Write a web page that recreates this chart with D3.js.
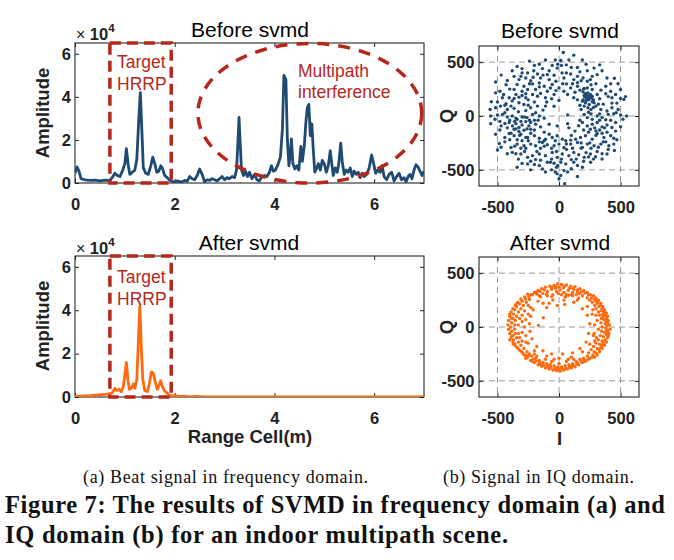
<!DOCTYPE html>
<html><head><meta charset="utf-8">
<script src="https://cdn.jsdelivr.net/npm/d3@7"></script>
<style>
html,body{margin:0;padding:0;background:#fff;}
svg{display:block;}
</style></head>
<body>
<svg id="chart" width="674" height="560"></svg>
<script>
// ---------- data ----------
const rangeTicks = [0, 2, 4, 6];
const ampTicks = [0, 2, 4, 6];
const iqTicks = [-500, 0, 500];

const rangeBefore = [0.00,0.04,0.08,0.12,0.20,0.30,0.40,0.50,0.60,0.70,0.76,0.80,0.85,0.90,0.95,1.00,1.03,1.07,1.10,1.15,1.20,1.24,1.28,1.31,1.34,1.37,1.42,1.47,1.52,1.56,1.60,1.64,1.68,1.72,1.75,1.80,1.85,1.90,1.95,2.00,2.05,2.10,2.15,2.20,2.25,2.30,2.35,2.40,2.45,2.50,2.55,2.60,2.65,2.70,2.75,2.80,2.85,2.90,2.95,3.00,3.05,3.10,3.15,3.20,3.24,3.27,3.29,3.31,3.34,3.38,3.42,3.46,3.50,3.55,3.60,3.65,3.70,3.75,3.80,3.85,3.90,3.94,3.98,4.02,4.07,4.12,4.16,4.19,4.23,4.26,4.29,4.32,4.34,4.37,4.41,4.45,4.49,4.53,4.56,4.60,4.63,4.66,4.69,4.72,4.75,4.78,4.81,4.85,4.88,4.92,4.96,5.00,5.04,5.08,5.12,5.15,5.18,5.22,5.26,5.29,5.33,5.36,5.40,5.44,5.48,5.52,5.56,5.60,5.64,5.68,5.72,5.76,5.80,5.85,5.90,5.95,5.99,6.03,6.07,6.12,6.16,6.20,6.25,6.30,6.35,6.40,6.45,6.50,6.55,6.60,6.64,6.68,6.72,6.76,6.80,6.84,6.88,6.92,6.96,7.00];
const ampBefore = [0.45,0.75,0.55,0.20,0.15,0.12,0.13,0.10,0.13,0.12,0.30,0.45,0.35,0.30,0.55,0.90,1.60,0.80,0.40,0.50,0.60,1.10,3.00,4.20,2.50,0.70,0.45,0.40,0.80,1.20,0.90,0.50,0.55,0.80,0.70,0.35,0.25,0.12,0.08,0.05,0.10,0.06,0.05,0.12,0.08,0.30,0.20,0.15,0.35,0.65,0.40,0.05,0.15,0.12,0.20,0.15,0.10,0.20,0.30,0.15,0.25,0.20,0.30,0.25,0.60,2.00,3.05,2.00,0.60,0.35,0.55,0.30,0.50,0.20,0.40,0.15,0.10,0.30,0.35,0.30,0.50,0.80,0.55,0.60,0.85,1.20,2.50,5.00,4.80,2.00,0.80,1.40,2.05,0.90,0.65,0.80,0.60,1.70,1.00,1.75,2.80,3.50,3.65,2.20,2.75,1.50,0.50,0.70,0.90,0.60,1.05,0.90,0.50,0.80,1.50,0.90,0.35,0.70,0.50,0.90,1.85,1.00,0.40,0.60,0.50,0.70,0.30,0.55,0.40,0.50,0.25,0.45,0.30,0.40,0.70,1.30,0.90,0.45,0.60,0.50,0.80,0.30,0.15,0.40,0.50,0.10,0.30,0.45,0.15,0.25,0.05,0.30,0.40,0.20,0.60,0.85,0.75,0.55,0.35,0.55];

const rangeAfter = [0.00,0.30,0.60,0.70,0.75,0.80,0.84,0.88,0.93,0.97,1.00,1.03,1.06,1.09,1.13,1.17,1.20,1.24,1.27,1.30,1.33,1.36,1.40,1.45,1.49,1.53,1.57,1.61,1.65,1.69,1.72,1.75,1.79,1.84,1.90,1.95,2.00,2.10,2.20,2.30,2.40,2.60,3.00,4.00,5.00,6.00,7.00];
const ampAfter = [0.03,0.06,0.12,0.15,0.20,0.40,0.30,0.35,0.25,0.50,1.00,1.60,0.80,0.35,0.40,0.60,0.40,0.80,2.50,4.20,2.30,0.80,0.30,0.25,0.60,1.15,1.10,0.70,0.35,0.55,0.75,0.50,0.30,0.20,0.08,0.05,0.06,0.03,0.04,0.01,0.03,0.01,0.01,0.01,0.01,0.01,0.01];

// annotation regions (data units)
const targetBox = [0.70, 1.93];                       // range cells of the Target HRRP box
const multipathEllipse = [4.71, 3.24, 2.245, 3.24];   // cx, cy(1e4), rx, ry(1e4)

const iqBefore = [
[35,590],[120,565],[15,515],[-110,520],[-240,510],[190,520],[-160,480],[-340,460],[60,475],[-55,470],[330,475],[285,445],[150,450],[-15,445],[-135,440],[-205,420],[-365,368],[-310,368],[-255,400],[-175,390],[-95,384],[-40,378],[25,400],[95,390],[150,368],[195,353],[270,368],[255,338],[310,384],[390,353],[-325,338],[-270,353],[-230,328],[-150,353],[-80,338],[-25,322],[40,353],[120,338],[180,328],[230,322],
[-515,316],[-340,292],[-285,276],[-215,298],[-160,307],[-120,276],[-55,292],[0,261],[60,298],[95,261],[150,276],[205,255],[230,261],[270,246],[380,276],[500,246],[-365,246],[-255,246],[-190,246],[-95,230],[-25,236],[40,230],[-300,230],[170,240],[110,300],[-430,290],
[-515,215],[-405,169],[-365,163],[-325,175],[-270,206],[-215,200],[-175,184],[-110,169],[-40,200],[70,200],[120,169],[195,224],[215,206],[235,215],[255,200],[210,175],[230,169],[250,163],[270,184],[310,200],[380,206],[430,169],[500,163],[527,154],[-550,132],[-460,169],[205,190],[225,195],[245,185],[265,170],[240,150],[220,145],[195,150],[280,150],[-250,150],[-300,190],[-450,200],[-150,210],[-60,160],[0,145],[150,150],
[-515,77],[-475,92],[-430,114],[-390,92],[-365,71],[-325,123],[-285,107],[-230,77],[-175,92],[-110,92],[190,138],[215,123],[245,107],[270,132],[205,92],[235,77],[300,92],[340,61],[390,46],[430,77],[465,31],[285,123],[-200,130],[-420,60],[-270,50],[260,60],[320,110],[170,100],[-130,55],[470,120],
[-555,0],[-500,9],[-460,15],[-420,-9],[-380,0],[-340,-31],[-300,-9],[-260,-15],[-215,15],[-160,0],[70,9],[205,15],[230,-15],[270,-31],[310,0],[350,-15],[400,15],[445,21],[500,9],[550,0],[-240,-40],[-440,30],[240,35],[380,-35],[-120,-20],
[-555,-71],[-470,-92],[-405,-61],[-378,-92],[-350,-71],[-325,-107],[-300,-83],[-270,-52],[-245,-92],[-365,-123],[-325,-144],[-285,-132],[-230,-123],[-190,-77],[-150,-101],[-80,-77],[-15,-92],[70,-71],[80,-110],[190,-61],[230,-92],[270,-77],[310,-61],[350,-101],[390,-83],[430,-107],[255,-123],[300,-138],[-400,-40],[-420,-110],[-360,-50],[-310,-50],[-260,-120],[160,-90],[330,-130],[460,-60],
[-515,-169],[-405,-163],[-365,-184],[-310,-169],[-255,-200],[-200,-184],[-160,-206],[-110,-215],[-55,-200],[-15,-184],[27,-215],[55,-230],[95,-224],[135,-215],[175,-200],[215,-184],[270,-215],[310,-163],[365,-200],[420,-184],[445,-206],[-440,-200],[-340,-220],[-230,-160],[240,-150],[390,-150],[-80,-170],[100,-180],
[-485,-255],[-390,-292],[-340,-261],[-285,-276],[-230,-261],[-190,-276],[-135,-246],[-95,-267],[-40,-276],[0,-261],[40,-292],[95,-261],[150,-246],[190,-292],[230,-261],[285,-276],[340,-261],[405,-276],[445,-261],[-310,-300],[-150,-300],[60,-310],[260,-300],[380,-240],[-440,-240],
[-500,-316],[-380,-338],[-310,-353],[-255,-384],[-215,-368],[-160,-353],[-110,-368],[-55,-338],[-15,-384],[27,-353],[80,-368],[120,-338],[160,-359],[205,-384],[255,-353],[297,-378],[350,-399],[390,-353],[-280,-330],[-60,-400],[100,-405],[-190,-405],[310,-330],
[-340,-476],[-255,-445],[-160,-460],[-135,-491],[-95,-430],[-40,-439],[-20,-476],[15,-430],[55,-445],[150,-460],[257,-430],[190,-476],[-60,-500],[100,-490],[-230,-500],
[-15,-537],[14,-553],[0,-583],[46,-629],[150,-562],[41,-507],[-30,-520],
[-470,380],[-420,330],[-380,420],[-300,440],[-200,470],[-80,420],[20,470],[80,520],[170,410],[230,420],[350,420],[420,300],[450,350],[-480,230],[-400,250],[-160,270],[-70,260],[30,300],[130,220],[300,300],[340,240],[420,230],[460,200],[540,180],[-560,60],[-500,130],[-380,140],[-330,40],[-250,100],[-190,30],[-100,130],[-40,90],[180,60],[260,20],[330,160],[360,110],[400,180],[430,120],[480,60],[520,-30],[-520,-30],[-480,-130],[-440,-70],[-390,-160],[-350,-20],[-320,-180],[-280,-10],[-230,-60],[-200,-130],[-170,-40],[-120,-150],[130,-140],[170,-40],[200,-130],[290,-110],[330,-40],[370,-110],[420,-40],[460,-140],[500,-100],[-470,-290],[-420,-350],[-360,-280],[-330,-400],[-270,-300],[-230,-420],[-180,-330],[-120,-280],[-70,-430],[-20,-330],[20,-400],[60,-260],[110,-300],[140,-400],[180,-250],[220,-340],[280,-400],[320,-290],[360,-240],[400,-310],[470,-220],[-110,-520],[70,-520],[200,-420],[-300,-440],[-200,-450],[-10,-460],[120,-430],[-150,-410],[300,-180],[250,-250],[350,-160],[-350,200],[-240,300],[-130,380],[-30,520],[220,480],[260,290],[150,310],[-30,-230],[-160,-240],[-400,-220],[-250,-230],[-350,-120],[-300,-230],[-200,-40],[330,20],[280,80],[200,250],[100,450],[-10,480],[-300,400],[-440,100],[-480,-50],[-350,-350],[350,-350],[450,-320],[480,300],[-270,170],[-210,360],[60,400],[-60,-300],[180,-300],[-270,-200],[240,-380],[-120,-230]
];

const iqAfter = [
[-10,400],[20,395],[-40,385],[60,390],[95,380],[130,375],[-75,380],[-110,370],[-140,355],[-170,340],[170,355],[200,340],[230,320],[-200,320],[-230,300],[255,300],
[-20,330],[10,345],[40,320],[75,340],[110,320],[140,300],[-60,350],[-95,330],[-130,310],[-160,290],[165,310],[190,290],[-50,300],[80,295],[120,350],[-120,345],[0,370],[35,365],[-30,360],[150,330],[-180,305],
[110,290],[105,305],[60,300],[55,280],[-95,290],[-100,305],[-150,280],[160,270],[20,300],[-5,310],
[280,290],[300,270],[320,250],[340,220],[355,190],[370,160],[385,130],[395,100],[400,60],[410,20],[415,-20],[405,-60],[395,-100],[385,-140],[370,-170],[350,-200],[330,-230],[310,-260],[290,-280],
[250,250],[270,230],[290,200],[300,170],[320,140],[330,110],[345,80],[340,40],[350,0],[345,-40],[335,-80],[320,-120],[300,-150],[280,-180],[260,-210],[240,-240],[265,270],[310,220],[325,190],[345,150],[355,120],[365,70],[375,30],[380,-10],[370,-50],[360,-90],[350,-130],[330,-160],[310,-200],[285,-230],[275,-260],
[360,100],[380,60],[300,240],[390,-30],[360,-160],[300,110],[310,60],[320,-20],[305,-100],[290,-130],[275,160],[285,-60],[395,40],[400,-80],[340,-190],[230,270],
[250,-290],[220,-310],[190,-330],[160,-350],[130,-370],[100,-380],[70,-390],[40,-400],[10,-410],[-20,-405],[-50,-400],[-80,-390],[-110,-380],[-140,-365],[-170,-350],[-200,-330],[-230,-310],[-260,-285],
[230,-270],[200,-290],[170,-300],[140,-320],[110,-340],[80,-350],[50,-360],[20,-370],[-10,-370],[-40,-360],[-70,-350],[-100,-340],[-130,-330],[-160,-310],[-190,-290],[-220,-270],[120,-300],[60,-320],[0,-340],[-60,-320],[-110,-300],[30,-390],[-30,-385],[90,-365],[150,-335],[-150,-345],[-90,-365],[210,-320],[-215,-320],[0,-390],[75,-300],[-40,-300],[-180,-270],
[-280,-260],[-300,-235],[-330,-205],[-355,-175],[-375,-140],[-390,-100],[-400,-60],[-410,-20],[-415,20],[-410,60],[-400,100],[-390,140],[-375,170],[-355,200],[-335,230],[-310,260],[-280,280],[-255,305],
[-260,-230],[-285,-200],[-310,-170],[-330,-140],[-345,-100],[-355,-60],[-360,-20],[-360,20],[-355,60],[-345,100],[-330,140],[-310,170],[-290,200],[-265,230],[-240,255],
[-320,-100],[-300,-130],[-330,-60],[-330,20],[-320,80],[-300,110],[-280,150],[-380,-80],[-395,0],[-385,80],[-370,-160],[-350,210],[-240,-250],[-270,-140],[-300,-50],[-300,50],[-400,120],[-400,-120],[-250,200],[-270,-290],[-200,-250],
[-81,221],[-127,86],[-167,15],[-14,200],[46,210],[-100,180],
[-60,370],[-25,375],[45,380],[85,360],[115,360],[150,345],[180,325],[-155,330],[-185,325],[-215,300],[210,315],[240,300],
[290,255],[315,235],[335,200],[350,170],[365,140],[375,110],[385,80],[390,10],[395,-40],[385,-70],[375,-120],[360,-150],[345,-175],[325,-210],[300,-240],[270,-280],
[240,-300],[205,-305],[180,-320],[145,-345],[115,-355],[85,-375],[55,-385],[25,-385],[-5,-395],[-35,-395],[-65,-375],[-95,-355],[-125,-355],[-155,-330],[-185,-315],[-210,-300],[-245,-270],
[-265,-265],[-290,-250],[-315,-220],[-340,-190],[-360,-155],[-370,-120],[-375,-80],[-385,-40],[-385,40],[-375,80],[-370,120],[-360,160],[-345,190],[-320,215],[-300,240],[-270,260],[-245,280],
[-250,120],[-270,70],[-280,0],[-270,-80],[-250,-150],[-200,-220],[-100,-270],[0,-290],[100,-280],[190,-230],[250,-160],[280,-80],[290,20],[270,120],[230,190],[150,250],[50,280],[-60,280],[-170,240],[-230,180],
[-210,160],[-230,100],[-240,30],[-235,-40],[-220,-110],[-180,-180],[-130,-220],[-60,-250],[30,-250],[110,-240],[170,-200],[220,-140],[240,-60],[250,30],[230,110],[190,170],[120,230],[40,250],[-50,250],[-130,220]
];

// ---------- drawing ----------
const svg = d3.select("#chart");
const SANS = "'Liberation Sans', Arial, Helvetica, sans-serif";
const SERIF = "'Liberation Serif', 'Times New Roman', serif";
const RED = "#B5271B";
const BLUE = "#1F4A74";
const ORANGE = "#FF6A0E";
const FRAME = "#262626";

let clipId = 0;
function framedAxes(box, xDomain, yDomain, xTicks, yTicks, xFmt, yFmt, opts) {
  const g = svg.append("g");
  const x = d3.scaleLinear().domain(xDomain).range([box.x0, box.x1]);
  const y = d3.scaleLinear().domain(yDomain).range([box.y1, box.y0]);
  const id = "clip" + (clipId++);
  svg.append("clipPath").attr("id", id).append("rect")
    .attr("x", box.x0).attr("y", box.y0).attr("width", box.x1 - box.x0).attr("height", box.y1 - box.y0);
  if (opts.grid) {
    const gg = g.append("g").attr("stroke", "#9a9a9a").attr("stroke-width", 1).attr("stroke-dasharray", "6,4");
    xTicks.forEach(t => gg.append("line").attr("x1", x(t)).attr("x2", x(t)).attr("y1", box.y0).attr("y2", box.y1));
    yTicks.forEach(t => gg.append("line").attr("y1", y(t)).attr("y2", y(t)).attr("x1", box.x0).attr("x2", box.x1));
  }
  const style = sel => {
    sel.select(".domain").remove();
    sel.selectAll(".tick line").attr("stroke", FRAME).attr("stroke-width", 1);
    sel.selectAll(".tick text").attr("fill", "#222").attr("font-family", SANS)
      .attr("font-size", 16.5).attr("font-weight", "bold");
  };
  g.append("g").attr("transform", `translate(0,${box.y1})`)
    .call(d3.axisBottom(x).tickValues(xTicks).tickFormat(xFmt).tickSize(-4).tickPadding(15)).call(style);
  g.append("g").attr("transform", `translate(0,${box.y0})`)
    .call(d3.axisTop(x).tickValues(xTicks).tickFormat("").tickSize(-4)).call(style);
  g.append("g").attr("transform", `translate(${box.x0},0)`)
    .call(d3.axisLeft(y).tickValues(yTicks).tickFormat(yFmt).tickSize(-4).tickPadding(opts.yPad)).call(style);
  g.append("g").attr("transform", `translate(${box.x1},0)`)
    .call(d3.axisRight(y).tickValues(yTicks).tickFormat("").tickSize(-4)).call(style);
  g.append("rect").attr("x", box.x0).attr("y", box.y0).attr("width", box.x1 - box.x0).attr("height", box.y1 - box.y0)
    .attr("fill", "none").attr("stroke", FRAME).attr("stroke-width", 1.1);
  return {x, y, clip: `url(#${id})`, g};
}

function title(txt, cx, baseY) {
  svg.append("text").attr("x", cx).attr("y", baseY).attr("text-anchor", "middle")
    .attr("font-family", SANS).attr("font-size", 21).attr("fill", "#000").text(txt);
}
function exponent(x0, baseY) {
  const t = svg.append("text").attr("x", x0).attr("y", baseY).attr("font-family", SANS).attr("fill", "#222");
  t.append("tspan").attr("font-size", 16).text("× ");
  t.append("tspan").attr("font-size", 16.5).attr("font-weight", "bold").text("10");
  t.append("tspan").attr("font-size", 11.5).attr("font-weight", "bold").attr("dy", -8).text("4");
}
function rotLabel(txt, x, y, size) {
  svg.append("text").attr("transform", `translate(${x},${y}) rotate(-90)`).attr("text-anchor", "middle")
    .attr("font-family", SANS).attr("font-size", size).attr("font-weight", "bold").attr("fill", "#222").text(txt);
}
function redText(lines, x, baselines) {
  lines.forEach((l, i) => svg.append("text").attr("x", x).attr("y", baselines[i])
    .attr("font-family", SANS).attr("font-size", 17.5).attr("fill", RED).text(l));
}
function targetRect(ax) {
  svg.append("rect")
    .attr("x", ax.x(targetBox[0])).attr("y", ax.y(6.5))
    .attr("width", ax.x(targetBox[1]) - ax.x(targetBox[0])).attr("height", ax.y(0) - ax.y(6.5))
    .attr("fill", "none").attr("stroke", RED).attr("stroke-width", 3.5).attr("stroke-dasharray", "11,6");
}

const intFmt = d => String(d);

// ---- (a) top: Before svmd ----
const a1 = framedAxes({x0: 75, x1: 424, y0: 43, y1: 183}, [0, 7], [0, 6.5], rangeTicks, ampTicks, intFmt, intFmt, {yPad: 4});
svg.append("path").datum(d3.zip(rangeBefore, ampBefore)).attr("clip-path", a1.clip)
  .attr("d", d3.line().x(d => a1.x(d[0])).y(d => a1.y(d[1])))
  .attr("fill", "none").attr("stroke", BLUE).attr("stroke-width", 2.8).attr("stroke-linejoin", "round");
targetRect(a1);
{
  const [cx, cy, rx, ry] = multipathEllipse;
  svg.append("ellipse").attr("cx", a1.x(cx)).attr("cy", a1.y(cy))
    .attr("rx", a1.x(cx + rx) - a1.x(cx)).attr("ry", a1.y(cy - ry) - a1.y(cy))
    .attr("fill", "none").attr("stroke", RED).attr("stroke-width", 3.5).attr("stroke-dasharray", "12,9");
}
redText(["Target", "HRRP"], 117, [68, 90]);
redText(["Multipath", "interference"], 298, [77, 97.5]);
title("Before svmd", 250, 37);
exponent(76, 40);
rotLabel("Amplitude", 48.5, 113, 18.5);

// ---- (a) bottom: After svmd ----
const a2 = framedAxes({x0: 75, x1: 424, y0: 256, y1: 397}, [0, 7], [0, 6.5], rangeTicks, ampTicks, intFmt, intFmt, {yPad: 4});
svg.append("path").datum(d3.zip(rangeAfter, ampAfter)).attr("clip-path", a2.clip)
  .attr("d", d3.line().x(d => a2.x(d[0])).y(d => a2.y(d[1])))
  .attr("fill", "none").attr("stroke", ORANGE).attr("stroke-width", 2.8).attr("stroke-linejoin", "round");
targetRect(a2);
redText(["Target", "HRRP"], 117, [283, 305]);
title("After svmd", 249, 249.5);
exponent(76, 253.5);
rotLabel("Amplitude", 48.5, 326, 18.5);
svg.append("text").attr("x", 250).attr("y", 443).attr("text-anchor", "middle")
  .attr("font-family", SANS).attr("font-size", 18.5).attr("font-weight", "bold").attr("fill", "#222").text("Range Cell(m)");

// ---- (b) IQ scatter ----
function iqPanel(y0, y1, data, color, titleTxt, titleY) {
  const ax = framedAxes({x0: 479, x1: 639, y0, y1}, [-650, 650], [-650, 650], iqTicks, iqTicks, intFmt, intFmt, {grid: true, yPad: 4.5});
  svg.append("g").attr("clip-path", ax.clip).selectAll("circle").data(data).join("circle")
    .attr("cx", d => ax.x(d[0])).attr("cy", d => ax.y(d[1])).attr("r", 1.7).attr("fill", color);
  title(titleTxt, 560, titleY);
  rotLabel("Q", 453, (y0 + y1) / 2, 18.5);
  return ax;
}
iqPanel(46, 186, iqBefore, BLUE, "Before svmd", 38);
iqPanel(257, 397, iqAfter, ORANGE, "After svmd", 250);
svg.append("text").attr("x", 559.5).attr("y", 445).attr("text-anchor", "middle")
  .attr("font-family", SANS).attr("font-size", 18.5).attr("font-weight", "bold").attr("fill", "#222").text("I");

// ---- captions ----
function cap(txt, x, y, size, weight, len) {
  svg.append("text").attr("x", x).attr("y", y).attr("font-family", SERIF)
    .attr("font-size", size).attr("font-weight", weight).attr("fill", "#111")
    .attr("textLength", len).attr("lengthAdjust", "spacing").text(txt);
}
cap("(a)  Beat signal in frequency domain.", 83, 483, 18, "normal", 285);
cap("(b)  Signal in IQ domain.", 443, 483, 18, "normal", 191);
cap("Figure 7: The results of SVMD in frequency domain (a) and", 5, 513, 24.5, "bold", 660);
cap("IQ domain (b) for an indoor multipath scene.", 5, 543, 24.5, "bold", 503);
</script>
</body></html>
